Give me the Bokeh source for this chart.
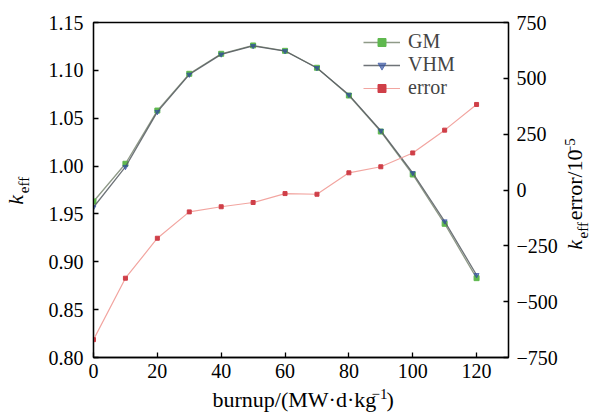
import math
from bokeh.plotting import figure
from bokeh.layouts import row, column
from bokeh.models import Range1d, LinearAxis, FixedTicker, Label, Legend, LegendItem
from bokeh.embed import file_html
from bokeh.resources import INLINE

# ---------------- data ----------------
burnup = [0, 10, 20, 30, 40, 50, 60, 70, 80, 90, 100, 110, 120]
gm_keff = [0.963, 1.0024, 1.058, 1.0964, 1.1173, 1.1260, 1.1204, 1.1027, 1.0737, 1.0361, 0.9912, 0.9397, 0.8829]
vhm_keff = [0.957, 0.9992, 1.0566, 1.0956, 1.1167, 1.1255, 1.1202, 1.1025, 1.0744, 1.0369, 0.9928, 0.9423, 0.8862]
error_pcm = [-670, -395, -216, -98, -75, -56, -16, -19, 77, 104, 166, 268, 383]

x_ticks = [0, 20, 40, 60, 80, 100, 120]
left_ticks = [0.80, 0.85, 0.90, 0.95, 1.00, 1.05, 1.10, 1.15]
left_tick_labels = ["0.80", "0.85", "0.90", "1.95", "1.00", "1.05", "1.10", "1.15"]
right_ticks = [-750, -500, -250, 0, 250, 500, 750]
right_tick_labels = ["\u2212750", "\u2212500", "\u2212250", "0", "250", "500", "750"]

FONT = "Liberation Serif"
TICK_FS = "20px"
TITLE_PX, SUB_PX = 22, 15

LEFT_W, MAIN_W, RIGHT_W = 40, 520, 35
MAIN_H, BOTTOM_H = 386, 26

p = figure(width=MAIN_W, height=MAIN_H,
           min_border_left=53, min_border_right=51, min_border_top=22, min_border_bottom=29,
           x_range=Range1d(0, 130), y_range=Range1d(0.80, 1.15),
           output_backend="svg", toolbar_location=None,
           background_fill_color="white", border_fill_color="white")
p.extra_y_ranges = {"err": Range1d(-750, 750)}
p.grid.visible = False
p.outline_line_color = "black"
p.outline_line_width = 1.3

def style_axis(ax):
    ax.axis_line_color = "black"
    ax.axis_line_width = 1.3
    ax.major_tick_in = 5
    ax.major_tick_out = 0
    ax.major_tick_line_width = 1.3
    ax.minor_tick_line_color = None
    ax.major_label_text_font = FONT
    ax.major_label_text_font_size = TICK_FS
    ax.major_label_text_color = "black"

xa = p.xaxis[0]
style_axis(xa)
xa.ticker = FixedTicker(ticks=x_ticks)
xa.major_label_standoff = 6

ya = p.yaxis[0]
style_axis(ya)
ya.ticker = FixedTicker(ticks=left_ticks)
ya.major_label_overrides = {t: s for t, s in zip(left_ticks, left_tick_labels)}
ya.major_label_standoff = 10

ra = LinearAxis(y_range_name="err")
style_axis(ra)
ra.ticker = FixedTicker(ticks=right_ticks)
ra.major_label_overrides = {t: s for t, s in zip(right_ticks, right_tick_labels)}
ra.major_label_standoff = 8
p.add_layout(ra, "right")

# ---------------- series ----------------
gm_line = p.line(burnup, gm_keff, line_color="#8f9a88", line_width=1.3)
gm_pts = p.scatter(burnup, gm_keff, marker="square", size=5, fill_color="#5fb84f", line_color="#5fb84f")
vhm_line = p.line(burnup, vhm_keff, line_color="#555a60", line_width=1.3, line_alpha=0.85)
vhm_pts = p.scatter(burnup, vhm_keff, marker="inverted_triangle", size=5, fill_color="#2f4f9f",
                    line_color="#2f4f9f", fill_alpha=0.65, line_alpha=0.65)
err_line = p.line(burnup, error_pcm, y_range_name="err", line_color="#f2a5a0", line_width=1.2)
err_pts = p.scatter(burnup, error_pcm, y_range_name="err", marker="square", size=4,
                    fill_color="#cf3f48", line_color="#cf3f48")

legend = Legend(items=[LegendItem(label="GM", renderers=[gm_line, gm_pts]),
                       LegendItem(label="VHM", renderers=[vhm_line, vhm_pts]),
                       LegendItem(label="error", renderers=[err_line, err_pts])],
                location=(270, 258), border_line_color=None, background_fill_alpha=0,
                padding=0, margin=0, spacing=0, glyph_width=37, glyph_height=20,
                label_height=20, label_standoff=8, label_text_font=FONT,
                label_text_font_size="20px")
p.add_layout(legend)

# ---------------- axis titles, in small text panels ----------------
def text_panel(w, h):
    f = figure(width=w, height=h, x_range=Range1d(0, w), y_range=Range1d(h, 0),
               min_border=0, x_axis_location=None, y_axis_location=None,
               toolbar_location=None, output_backend="svg", outline_line_color=None,
               background_fill_color="white", border_fill_color="white")
    f.grid.visible = False
    return f

R = math.pi / 2

def add_text(f, x, y, text, px, italic=False, rotated=False):
    # compensate the renderer's baseline offset (about 0.45 em)
    off = 0.45 * px
    if rotated:
        x, y = x - off, y + off
    else:
        y = y - off
    f.add_layout(Label(x=x, y=y, text=text, text_font=FONT, text_font_size=f"{px}px",
                       text_font_style="italic" if italic else "normal",
                       text_align="left", text_baseline="alphabetic",
                       angle=R if rotated else 0.0, text_color="black"))

# left title: k_eff (panel spans page x 0..40)
left_fig = text_panel(LEFT_W, MAIN_H)
add_text(left_fig, 25, 200, "k", TITLE_PX, True, True)
add_text(left_fig, 30, 190, "eff", SUB_PX, False, True)

# right title: k_eff error/10^-5 (panel spans page x 560..595)
rx0 = LEFT_W + MAIN_W
right_fig = text_panel(RIGHT_W, MAIN_H)
add_text(right_fig, 584 - rx0, 252, "k", TITLE_PX, True, True)
add_text(right_fig, 589 - rx0, 242, "eff", SUB_PX, False, True)
add_text(right_fig, 584 - rx0, 218, "error/10", TITLE_PX, False, True)
add_text(right_fig, 576 - rx0, 145, "\u22125", SUB_PX, False, True)

# bottom title: burnup/(MW·d·kg^-1) (panel spans page y 386..412)
bottom_fig = text_panel(LEFT_W + MAIN_W + RIGHT_W, BOTTOM_H)
add_text(bottom_fig, 212, 409 - MAIN_H, "burnup/(MW\u00b7d\u00b7kg", TITLE_PX)
add_text(bottom_fig, 371, 400 - MAIN_H, "\u22121", SUB_PX)
add_text(bottom_fig, 386, 409 - MAIN_H, ")", TITLE_PX)

layout = column(row(left_fig, p, right_fig, spacing=0), bottom_fig, spacing=0)
open("out.html", "w").write(file_html(layout, INLINE))
